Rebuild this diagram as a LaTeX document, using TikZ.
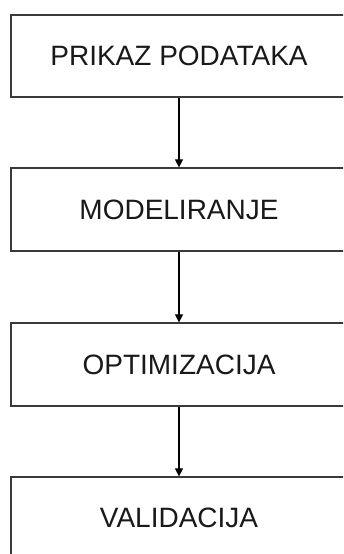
\documentclass[tikz,border=0pt]{standalone}
\usepackage{fontspec}
\setmainfont{Liberation Sans}
\usetikzlibrary{arrows.meta}
\definecolor{edge}{HTML}{3A3A3A}
\begin{document}
\begin{tikzpicture}[x=1pt,y=-1pt,
  stage/.style={draw=edge, line width=1.2pt, rectangle, minimum width=336pt,
    inner sep=0pt, text=black!90, font=\fontsize{28}{33}\selectfont},
  flow/.style={draw=black, line width=1.1pt, -{Triangle[width=8pt,length=8pt]}}]
\useasboundingbox (0,0) rectangle (343,554);
\clip (0,0) rectangle (343,554);
\fill[white] (0,0) rectangle (343,554);
\node[stage, minimum height=82pt] (a) at (179,56) {PRIKAZ PODATAKA};
\node[stage, minimum height=83pt] (b) at (179,209.5) {MODELIRANJE};
\node[stage, minimum height=83pt] (c) at (179,364.5) {OPTIMIZACIJA};
\node[stage, minimum height=82pt] (d) at (179,518) {VALIDACIJA};
\draw[flow] (a.south) -- (b.north);
\draw[flow] (b.south) -- (c.north);
\draw[flow] (c.south) -- (d.north);
\end{tikzpicture}
\end{document}
